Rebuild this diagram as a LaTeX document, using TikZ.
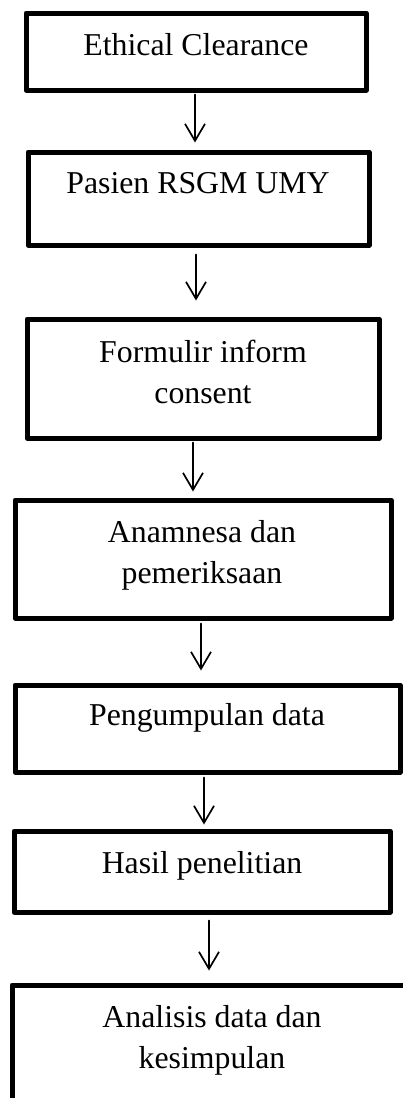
\documentclass[tikz,border=0pt]{standalone}
\usepackage{fontspec}
\setmainfont{Liberation Serif}
\usetikzlibrary{arrows.meta}
\begin{document}
\begin{tikzpicture}[x=1pt,y=-1pt,>={Straight Barb[length=17pt,width=20pt]},line cap=round,
				box/.style={draw,line width=5pt,line join=round,inner sep=0pt},
				txt/.style={font=\fontsize{31.8}{41}\selectfont,align=center,inner sep=0pt,anchor=base}]
				\useasboundingbox (0,0) rectangle (403,1098);
				\clip (0,0) rectangle (403,1098);
				%boxes
				\node[box,minimum width=340pt,minimum height=77pt] (b1) at (196,51.5) {};
				\node[box,minimum width=341pt,minimum height=93pt] (b2) at (198.5,198.5) {};
				\node[box,minimum width=352pt,minimum height=119pt] (b3) at (203,378.5) {};
				\node[box,minimum width=376pt,minimum height=118pt] (b4) at (203,559) {};
				\node[box,minimum width=385pt,minimum height=87pt] (b5) at (207.5,728.5) {};
				\node[box,minimum width=376pt,minimum height=81pt] (b6) at (202,871.5) {};
				\node[box,minimum width=420pt,minimum height=160pt] (b7) at (222,1065) {};
				%texts (base = last line)
				\node[txt] (t1) at (196,55) {Ethical Clearance};
				\node[txt] (t2) at (198,193) {Pasien RSGM UMY};
				\node[txt] (t3) at (203,403) {Formulir inform\\consent};
				\node[txt] (t4) at (202,583) {Anamnesa dan\\pemeriksaan};
				\node[txt] (t5) at (207,725) {Pengumpulan data};
				\node[txt] (t6) at (202,873) {Hasil penelitian};
				\node[txt] (t7) at (212,1068) {Analisis data dan\\kesimpulan};
				%arrows
				\foreach \A/\B/\XS/\XE/\S/\E in {b1/b2/-1/-3.5/2/7,b2/b3/-2.5/-7/7/16,b3/b4/-10/-10/2/6,b4/b5/-2/-6.5/3/12,b5/b6/-3.5/2/3/4,b6/b7/7/-13/6/12}
				{\draw[->,line width=1.7pt] ([xshift=\XS pt,yshift=-\S pt]\A.south) -- ([xshift=\XE pt,yshift=\E pt]\B.north);}
			\end{tikzpicture}
\end{document}
